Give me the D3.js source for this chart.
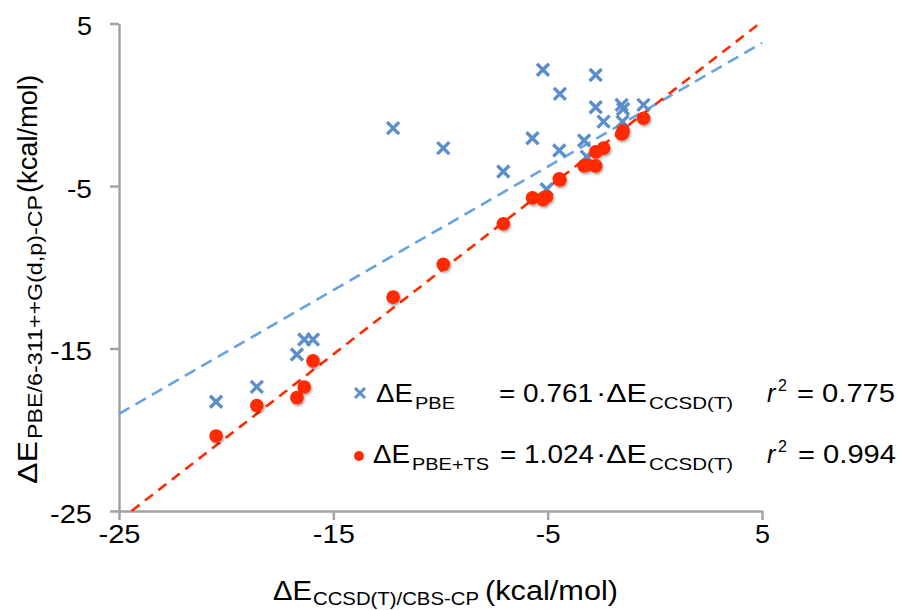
<!DOCTYPE html>
<html>
<head>
<meta charset="utf-8">
<script src="https://cdn.jsdelivr.net/npm/d3@7"></script>
<style>
body { margin: 0; background: #fff; }
svg { display: block; }
text { font-family: "Liberation Sans", Arial, Helvetica, sans-serif; fill: #000; }
</style>
</head>
<body>
<svg width="902" height="610"></svg>
<script>
// reference energies (x) and the two computed sets (y), kcal/mol
let xCCSD = [-20.47, -18.57, -16.70, -16.36, -15.95, -12.21, -9.87, -7.07, -5.71, -5.22, -5.05,
             -4.43, -4.46, -3.30, -3.18, -2.76, -2.76, -2.39, -1.55, -1.48, -1.51, -0.53];
let yPBE = [-18.28, -17.36, -15.37, -14.45, -14.45, -1.44, -2.67, -4.11, -2.06, 2.15, -5.20,
            0.67, -2.82, -2.20, -3.19, 1.83, -0.15, -1.04, -0.01, -0.26, -1.04, -0.01];
let yPBETS = [-20.38, -18.51, -18.02, -17.37, -15.76, -11.84, -9.82, -7.32, -5.73, -5.85, -5.66,
              -4.62, -4.55, -3.76, -3.72, -3.76, -2.90, -2.67, -1.80, -1.60, -1.75, -0.83];
let slopes = [0.761, 1.024];
let r2Values = ['0.775', '0.994'];
let seriesSubs = ['PBE', 'PBE+TS'];
let xTicks = [-25, -15, -5, 5];
let yTicks = [-25, -15, -5, 5];

let blue = '#5b8fcb';
let blueLine = '#67a3e0';
let red = '#ff2a00';
let axisGrey = '#a3a3a3';

let svg = d3.select('svg');

let xScale = d3.scaleLinear().domain([-25, 5]).range([119, 762]);
let yScale = d3.scaleLinear().domain([-25, 5]).range([511, 23.5]);

let defs = svg.append('defs');
let f = defs.append('filter').attr('id', 'shadow')
    .attr('x', '-50%').attr('y', '-50%').attr('width', '200%').attr('height', '200%');
f.append('feDropShadow').attr('dx', 1.2).attr('dy', 1.8).attr('stdDeviation', 1.2)
    .attr('flood-color', '#000').attr('flood-opacity', 0.35);

// text piece stretched to the width it has in the picture
let addText = (g, x, y, size, str, len, italic) => {
    let t = g.append('text').attr('x', x).attr('y', y).attr('font-size', size).text(str);
    if (len) t.attr('textLength', len).attr('lengthAdjust', 'spacingAndGlyphs');
    if (italic) t.attr('font-style', 'italic');
    return t;
}

// axes
let xAxis = d3.axisBottom(xScale).tickValues(xTicks).tickSize(9).tickSizeOuter(0).tickPadding(5)
    .tickFormat(d => String(d));
let yAxis = d3.axisLeft(yScale).tickValues(yTicks).tickSize(9).tickSizeOuter(0).tickPadding(18)
    .tickFormat(d => String(d));

let gx = svg.append('g').attr('transform', 'translate(0,' + yScale(-25) + ')').call(xAxis);
let gy = svg.append('g').attr('transform', 'translate(' + xScale(-25) + ',0)').call(yAxis);

[gx, gy].forEach(g => {
    g.select('.domain').attr('stroke', axisGrey).attr('stroke-width', 2.5);
    g.selectAll('.tick line').attr('stroke', axisGrey).attr('stroke-width', 2.5);
    g.selectAll('.tick text').attr('font-size', 26).attr('fill', '#000')
        .style('font-family', '"Liberation Sans", Arial, sans-serif')
        .attr('textLength', d => String(d).length == 1 ? 15 : (String(d).length == 2 ? 25 : 42))
        .attr('lengthAdjust', 'spacingAndGlyphs');
});
gy.selectAll('.tick text').attr('dy', '0.43em');

// trend lines through origin, clipped to the plot square
let lineGen = d3.line().x(d => xScale(d[0])).y(d => yScale(d[1]));
slopes.forEach((s, i) => {
    let x0 = Math.max(-25, -25 / s);
    let x1 = 5;
    svg.append('path')
        .datum([[x0, s * x0], [x1, s * x1]])
        .attr('d', lineGen)
        .attr('fill', 'none')
        .attr('stroke', i == 0 ? blueLine : red)
        .attr('stroke-width', 2.6)
        .attr('stroke-dasharray', i == 0 ? '12,7' : '10,7');
});

// PBE crosses
svg.append('g').selectAll('path')
    .data(xCCSD)
    .enter()
    .append('path')
    .attr('transform', (d, i) => 'translate(' + xScale(d) + ',' + yScale(yPBE[i]) + ')')
    .attr('d', 'M-6,-6L6,6M-6,6L6,-6')
    .attr('stroke', blue)
    .attr('stroke-width', 3.4)
    .attr('fill', 'none');

// PBE+TS dots
svg.append('g').attr('filter', 'url(#shadow)').selectAll('circle')
    .data(xCCSD)
    .enter()
    .append('circle')
    .attr('cx', d => xScale(d))
    .attr('cy', (d, i) => yScale(yPBETS[i]))
    .attr('r', 6.8)
    .attr('fill', red);

// legend
let rows = [402, 463];
let legend = svg.append('g');
legend.append('path').attr('d', 'M355,388L365,398M355,398L365,388')
    .attr('stroke', blue).attr('stroke-width', 3).attr('fill', 'none');
legend.append('circle').attr('cx', 359).attr('cy', 456).attr('r', 5).attr('fill', red);

rows.forEach((y, i) => {
    let x0 = i == 0 ? 376 : 373;
    addText(legend, x0, y, 25, 'ΔE', 37);
    addText(legend, x0 + 39, y + 7, 17, seriesSubs[i], i == 0 ? 40 : 77);
    addText(legend, 499 + i, y, 25, '= ' + slopes[i].toFixed(3), 94);
    addText(legend, 596, y, 25, '·ΔE', 51);
    addText(legend, 649, y + 7, 17, 'CCSD(T)', 84);
    addText(legend, 767, y, 25, 'r', null, true);
    addText(legend, 778, y - 11, 16, '2');
    addText(legend, 797 + i, y, 25, '= ' + r2Values[i], 98);
});

// x title
addText(svg, 273, 600, 27, 'ΔE', 39);
addText(svg, 313, 605, 19, 'CCSD(T)/CBS-CP', 166);
addText(svg, 485, 600, 27, '(kcal/mol)', 133);

// y title (rotated)
let yt = svg.append('g').attr('transform', 'translate(37,0) rotate(-90)');
addText(yt, -484, 0, 27, 'ΔE', 43);
addText(yt, -439, 5, 21, 'PBE/6-311++G(d,p)-CP', 244);
addText(yt, -193, 0, 27, '(kcal/mol)', 118);
</script>
</body>
</html>
